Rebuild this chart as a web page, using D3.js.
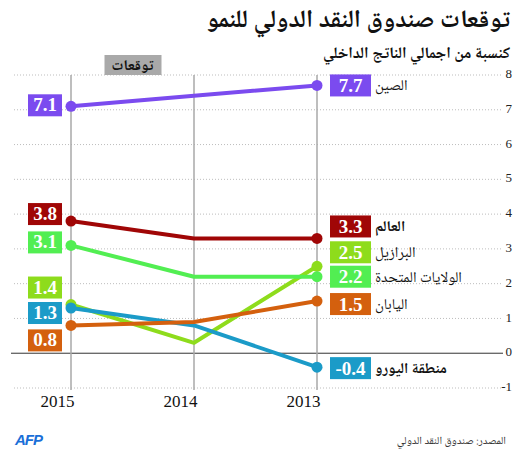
<!DOCTYPE html>
<html><head><meta charset="utf-8">
<script src="https://cdn.jsdelivr.net/npm/d3@7"></script>
<style>
html,body{margin:0;padding:0;background:#fff;}
svg{display:block;}
.ar{font-family:"Noto Naskh Arabic","Noto Sans Arabic","DejaVu Sans",sans-serif;}
.num{font-family:"Liberation Serif","DejaVu Serif",serif;}
</style></head>
<body>
<script>
const years = [2015, 2014, 2013];
const names = ["الصين", "العالم", "الولايات المتحدة", "البرازيل", "اليابان", "منطقة اليورو"];
const china = [7.1, 7.4, 7.7];
const world = [3.8, 3.3, 3.3];
const usa = [3.1, 2.2, 2.2];
const brazil = [1.4, 0.3, 2.5];
const japan = [0.8, 0.9, 1.5];
const euro = [1.3, 0.8, -0.4];
const yTicks = [-1, 0, 1, 2, 3, 4, 5, 6, 7, 8];
const title = "توقعات صندوق النقد الدولي للنمو";
const subtitle = "كنسبة من اجمالي الناتج الداخلي";
const forecastLabel = "توقعات";
const source = "المصدر: صندوق النقد الدولي";

// style / layout
const colors = ["#7B4BEF", "#A00606", "#52EE52", "#8EDC1C", "#D4600E", "#1B9BC8"];
const boldName = [false, true, false, false, false, true];
const leftNudge = [-1, -7, -3, -17, 15, 5];    // px offsets for left value labels
const rightNudge = [0, -12, 0, -14, 3, 1];     // px offsets for right value labels
const drawOrder = [0, 1, 3, 2, 5, 4];

const series = [china, world, usa, brazil, japan, euro];

const W = 525, H = 450;
const svg = d3.select("body").append("svg").attr("width", W).attr("height", H);

const x = d3.scalePoint().domain(years).range([71, 317]);
const y = d3.scaleLinear().domain([-1, 8]).range([388, 75]);

// title
svg.append("text").attr("class", "ar").attr("x", 510).attr("y", 27)
  .attr("text-anchor", "end").attr("font-size", 25).attr("font-weight", "bold")
  .attr("fill", "#111").text(title);
svg.append("text").attr("class", "ar").attr("x", 510).attr("y", 58)
  .attr("text-anchor", "end").attr("font-size", 16).attr("font-weight", "bold")
  .attr("fill", "#111").text(subtitle);

// gridlines
const grid = svg.append("g");
grid.selectAll("line").data(yTicks.filter(d => d !== 0)).join("line")
  .attr("x1", 14).attr("x2", 503)
  .attr("y1", d => y(d)).attr("y2", d => y(d))
  .attr("stroke", "#bdbdbd").attr("stroke-width", 1).attr("stroke-dasharray", "1,2");
svg.append("line").attr("x1", 11).attr("x2", 503).attr("y1", y(0)).attr("y2", y(0))
  .attr("stroke", "#333").attr("stroke-width", 1);

// y axis labels via d3 axis
const yAxis = svg.append("g").attr("transform", "translate(512,0)")
  .call(d3.axisLeft(y).tickValues(yTicks).tickSize(0).tickPadding(0)
    .tickFormat(d => String(d)));
yAxis.select(".domain").remove();
yAxis.selectAll("text").attr("class", "num").attr("font-size", 13).attr("fill", "#222")
  .attr("dy", "0.2em");

// vertical year lines
svg.append("g").selectAll("line").data(years).join("line")
  .attr("x1", d => x(d)).attr("x2", d => x(d))
  .attr("y1", y(8)).attr("y2", y(-1) + 2)
  .attr("stroke", "#a8a8a8").attr("stroke-width", 1.5);

// year labels
const xAxis = svg.append("g").attr("transform", `translate(3,${y(-1) + 19})`)
  .call(d3.axisBottom(x).tickSize(0).tickPadding(0).tickFormat(d3.format("d")));
xAxis.select(".domain").remove();
xAxis.selectAll("text").attr("class", "num").attr("font-size", 17).attr("fill", "#111")
  .attr("text-anchor", "end").attr("dy", 0);

// forecast box
const fx = (x(2015) + x(2014)) / 2;
svg.append("rect").attr("x", fx - 28).attr("y", 55).attr("width", 57).attr("height", 20)
  .attr("fill", "#a9a9a9");
svg.append("text").attr("class", "ar").attr("x", fx).attr("y", 70)
  .attr("text-anchor", "middle").attr("font-size", 15).attr("font-weight", "bold")
  .attr("fill", "#111").text(forecastLabel);

// lines
const line = d3.line().x((d, i) => x(years[i])).y(d => y(d));
const lg = svg.append("g");
drawOrder.forEach(si => {
  const g = lg.append("g");
  g.append("path").attr("d", line(series[si])).attr("fill", "none")
    .attr("stroke", colors[si]).attr("stroke-width", 4).attr("stroke-linejoin", "round");
  g.selectAll("circle").data([0, 2]).join("circle")
    .attr("cx", i => x(years[i])).attr("cy", i => y(series[si][i])).attr("r", 5.5)
    .attr("fill", colors[si]);
});

// left value labels
const fmt = d3.format(".1f");
const fmtV = v => (v < 0 ? "-" : "") + fmt(Math.abs(v));
series.forEach((s, si) => {
  const cy = y(s[0]) + leftNudge[si];
  svg.append("rect").attr("x", 28).attr("y", cy - 11)
    .attr("width", 34).attr("height", 22).attr("fill", colors[si]);
  svg.append("text").attr("class", "num").attr("x", 45).attr("y", cy + 6)
    .attr("text-anchor", "middle").attr("font-size", 19).attr("font-weight", "bold")
    .attr("fill", "#fff").text(fmtV(s[0]));
});

// right value labels + names
series.forEach((s, si) => {
  const cy = y(s[2]) + rightNudge[si];
  svg.append("rect").attr("x", 330).attr("y", cy - 11).attr("width", 41).attr("height", 22)
    .attr("fill", colors[si]);
  svg.append("text").attr("class", "num").attr("x", 350.5).attr("y", cy + 6.5)
    .attr("text-anchor", "middle").attr("font-size", 19).attr("font-weight", "bold")
    .attr("fill", "#fff").text(fmtV(s[2]));
  svg.append("text").attr("class", "ar").attr("x", 375).attr("y", cy + 5)
    .attr("text-anchor", "start").attr("font-size", 15)
    .attr("font-weight", boldName[si] ? "bold" : "normal")
    .attr("fill", "#111").text(names[si]);
});

// footer
svg.append("text").attr("x", 15).attr("y", 445).attr("font-family", "Liberation Sans, Arial, sans-serif")
  .attr("font-size", 15).attr("font-weight", "bold").attr("font-style", "italic")
  .attr("fill", "#1a6fd8").attr("letter-spacing", -1).text("AFP");
svg.append("text").attr("class", "ar").attr("x", 506).attr("y", 444)
  .attr("text-anchor", "end").attr("font-size", 11).attr("fill", "#333").text(source);
</script>
</body></html>
